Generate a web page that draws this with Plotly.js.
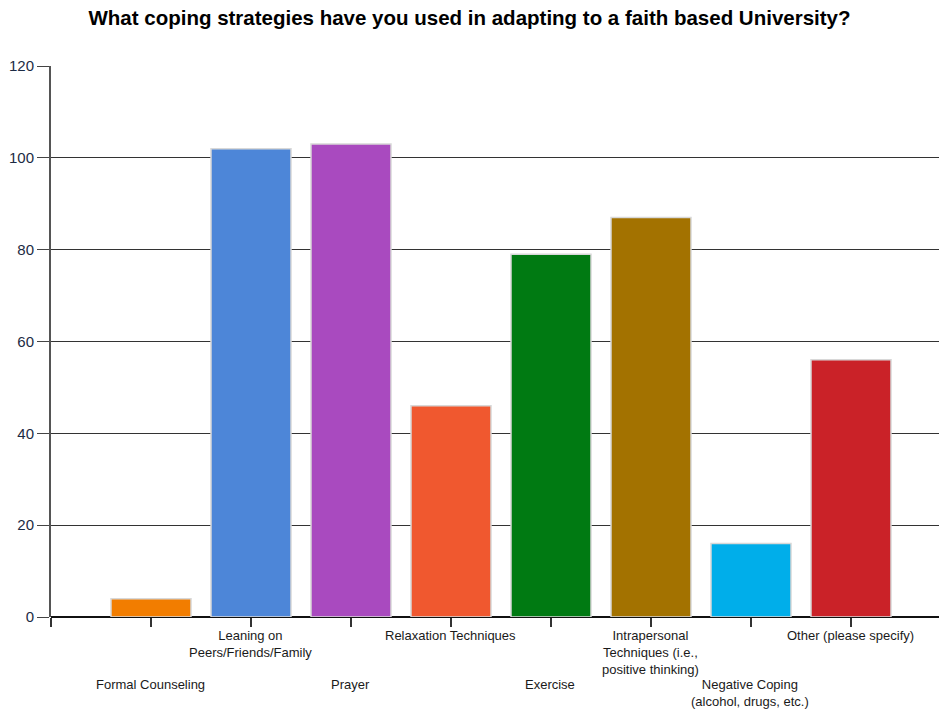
<!DOCTYPE html>
<html>
<head>
<meta charset="utf-8">
<script src="https://cdn.plot.ly/plotly-3.0.1.min.js"></script>
<style>html,body{margin:0;padding:0;background:#fff;}#chart{width:939px;height:713px;}</style>
</head>
<body>
<div id="chart"></div>
<script>
const categories = [
  "Formal Counseling",
  "Leaning on<br>Peers/Friends/Family",
  "Prayer",
  "Relaxation Techniques",
  "Exercise",
  "Intrapersonal<br>Techniques (i.e.,<br>positive thinking)",
  "Negative Coping<br>(alcohol, drugs, etc.)",
  "Other (please specify)"
];
const counts = [4, 102, 103, 46, 79, 87, 16, 56];
const barColors = ["#f27d00", "#4d86d8", "#a94abf", "#f0582f", "#007a12", "#a37200", "#00aeea", "#ca2228"];
const yTicks = [0, 20, 40, 60, 80, 100, 120];

const idx = categories.map((c, i) => i);

const trace = {
  type: "bar",
  x: idx,
  y: counts,
  width: 0.8,
  marker: { color: barColors, line: { color: "#d8d8d8", width: 1.5 } },
  hoverinfo: "skip"
};

const annotations = categories.map((c, i) => ({
  x: i, xref: "x", y: 0, yref: "paper",
  yanchor: "top", xanchor: "center",
  xshift: -1,
  yshift: (i % 2 === 1) ? -9 : -58,
  text: c, showarrow: false, align: "center",
  font: { family: "Liberation Sans, Arial, sans-serif", size: 13, color: "#1a1a1a" }
}));

const layout = {
  width: 939, height: 713,
  margin: { l: 51, r: 0, t: 66, b: 96 },
  paper_bgcolor: "#fff", plot_bgcolor: "#fff",
  showlegend: false,
  title: {
    text: "<b>What coping strategies have you used in adapting to a faith based University?</b>",
    font: { family: "Liberation Sans, Arial, sans-serif", size: 20.5, color: "#000" },
    x: 0.5, xanchor: "center", y: 0.975, yanchor: "middle"
  },
  xaxis: {
    range: [-1, 7.88],
    tickvals: [-1].concat(idx),
    ticktext: [-1].concat(idx).map(() => ""),
    ticks: "outside", ticklen: 9, tickcolor: "#333", tickwidth: 2,
    showgrid: false, zeroline: false,
    showline: false, fixedrange: true
  },
  yaxis: {
    range: [0, 120],
    tickvals: yTicks,
    ticks: "outside", ticklen: 12, tickcolor: "#444", tickwidth: 1,
    showgrid: true, gridcolor: "#333", gridwidth: 1,
    zeroline: true, zerolinecolor: "#111", zerolinewidth: 2,
    showline: true, linecolor: "#555", linewidth: 2,
    tickfont: { family: "Liberation Sans, Arial, sans-serif", size: 15, color: "#1c2b44" },
    fixedrange: true
  },
  annotations: annotations,
  bargap: 0.2
};

Plotly.newPlot("chart", [trace], layout, { displayModeBar: false, staticPlot: true });
</script>
</body>
</html>
